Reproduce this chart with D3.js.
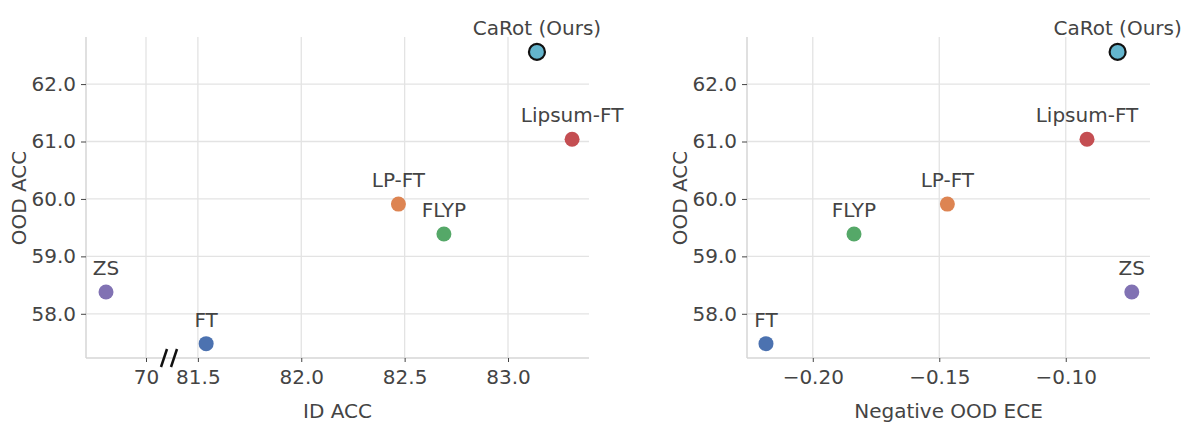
<!DOCTYPE html>
<html>
<head>
<meta charset="utf-8">
<script src="https://cdn.jsdelivr.net/npm/d3@7"></script>
<style>
  body { margin: 0; background: #fff; }
  text { font-family: "DejaVu Sans", sans-serif; fill: #444; }
</style>
</head>
<body>
<div id="container"></div>
<script>
var methods = ["ZS", "FT", "LP-FT", "FLYP", "Lipsum-FT", "CaRot (Ours)"]
var colors = ["#8172b3", "#4c72b0", "#dd8452", "#55a868", "#c44e52", "#64b5cd"]
var idAcc = [68.0, 81.54, 82.47, 82.69, 83.31, 83.14]
var oodAcc = [58.38, 57.48, 59.91, 59.39, 61.04, 62.56]
var negEce = [-0.0739, -0.2185, -0.1468, -0.1837, -0.0916, -0.0795]
var leftTicks = [70, 81.5, 82.0, 82.5, 83.0]
var leftTickLabels = ["70", "81.5", "82.0", "82.5", "83.0"]
var rightTicks = [-0.20, -0.15, -0.10]
var yTicks = [58, 59, 60, 61, 62]

var width = 1200, height = 424
var fs = "20px"
var svg = d3.select("#container").append("svg")
  .attr("width", width).attr("height", height)

var plotTop = 37, plotBottom = 358
var y = d3.scaleLinear().domain([57.23, 62.82]).range([plotBottom, plotTop])

function panel(x0, x1, xScale, xs, ticks, tickFmt, xTitle, yTitleX) {
  var g = svg.append("g")
  // grid
  g.selectAll(".vg").data(ticks).enter().append("line")
    .attr("x1", d => xScale(d)).attr("x2", d => xScale(d))
    .attr("y1", plotTop).attr("y2", plotBottom)
    .attr("stroke", "#e3e3e3").attr("stroke-width", 1.3)
  g.selectAll(".hg").data(yTicks).enter().append("line")
    .attr("x1", x0).attr("x2", x1)
    .attr("y1", d => y(d)).attr("y2", d => y(d))
    .attr("stroke", "#e3e3e3").attr("stroke-width", 1.3)

  var xAxis = d3.axisBottom(xScale).tickValues(ticks).tickSize(4).tickPadding(8).tickFormat(tickFmt)
  var ax = g.append("g").attr("transform", "translate(0," + plotBottom + ")").call(xAxis)
  ax.select(".domain").attr("d", "M" + x0 + ",0H" + x1).attr("stroke", "#d6d6d6").attr("stroke-width", 1.5)
  ax.selectAll(".tick line").attr("stroke", "#444")
  ax.selectAll("text").style("font-size", fs).attr("fill", "#444")

  var yAxis = d3.axisLeft(y).tickValues(yTicks).tickSize(5).tickPadding(5)
  var ay = g.append("g").attr("transform", "translate(" + x0 + ",0)").call(yAxis)
  ay.select(".domain").attr("d", "M0," + plotTop + "V" + plotBottom).attr("stroke", "#d6d6d6").attr("stroke-width", 1.5)
  ay.selectAll(".tick line").attr("stroke", "#444")
  ay.selectAll("text").style("font-size", fs).attr("fill", "#444")

  g.append("text").attr("x", (x0 + x1) / 2).attr("y", 418)
    .attr("text-anchor", "middle").style("font-size", fs).text(xTitle)
  g.append("text").attr("transform", "translate(" + yTitleX + ",198) rotate(-90)")
    .attr("text-anchor", "middle").style("font-size", fs).text("OOD ACC")

  var pts = methods.map((m, i) => ({ m: m, x: xs[i], y: oodAcc[i], c: colors[i] }))
  g.selectAll("circle").data(pts).enter().append("circle")
    .attr("cx", d => xScale(d.x)).attr("cy", d => y(d.y))
    .attr("r", d => d.m.indexOf("CaRot") === 0 ? 8 : 7.5)
    .attr("fill", d => d.c)
    .attr("stroke", d => d.m.indexOf("CaRot") === 0 ? "#111" : "none")
    .attr("stroke-width", 2.2)
  g.selectAll(".lbl").data(pts).enter().append("text")
    .attr("x", d => xScale(d.x)).attr("y", d => y(d.y) - 17)
    .attr("text-anchor", "middle").style("font-size", fs).text(d => d.m)
  return g
}

// left: broken ID ACC axis
var xl = d3.scaleLinear().domain([67, 71.2, 81.37, 83.4]).range([86, 170, 171, 590.7])
var fmtL = d => leftTickLabels[leftTicks.indexOf(d)]
var gl = panel(86, 589, xl, idAcc, leftTicks, fmtL, "ID ACC", 26)
gl.append("path").attr("d", "M161,367L167,349M171,367L177,349")
  .attr("stroke", "#111").attr("stroke-width", 2.5).attr("fill", "none")

// right
var xr = d3.scaleLinear().domain([-0.226, -0.0667]).range([747, 1150])
var fmtR = d => d3.format(".2f")(d).replace("-", "\u2212")
panel(747, 1150, xr, negEce, rightTicks, fmtR, "Negative OOD ECE", 687)
</script>
</body>
</html>
